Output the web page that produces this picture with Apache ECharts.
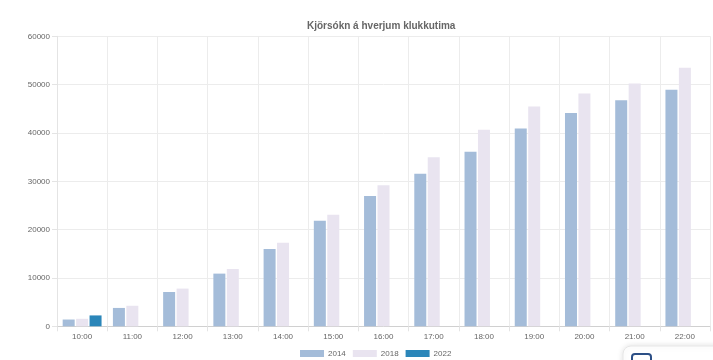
<!DOCTYPE html>
<html>
<head>
<meta charset="utf-8">
<script src="https://cdn.jsdelivr.net/npm/echarts@6/dist/echarts.min.js"></script>
<style>html,body{margin:0;padding:0;background:#fff;}#c{width:713px;height:360px;}</style>
</head>
<body>
<div id="c"></div>
<script>
const categories = ['10:00','11:00','12:00','13:00','14:00','15:00','16:00','17:00','18:00','19:00','20:00','21:00','22:00'];
const yTicks = [0, 10000, 20000, 30000, 40000, 50000, 60000];
const s2014 = [1400, 3800, 7100, 10900, 16000, 21850, 26950, 31550, 36100, 40900, 44150, 46750, 48950];
const s2018 = [1550, 4250, 7800, 11850, 17300, 23100, 29200, 35000, 40650, 45450, 48150, 50250, 53500];
const s2022 = [2250, null, null, null, null, null, null, null, null, null, null, null, null];

const chart = echarts.init(document.getElementById('c'), null, {renderer: 'canvas'});
const font = 'Liberation Sans, Arial, Helvetica, sans-serif';
chart.setOption({
  animation: false,
  title: {
    text: 'Kjörsókn á hverjum klukkutima',
    left: 302, top: 16,
    textStyle: {fontFamily: font, fontSize: 10, fontWeight: 'bold', color: '#666'}
  },
  legend: {
    top: 349.5, left: 300, itemWidth: 24, itemHeight: 7, itemGap: 7, padding: 0,
    textStyle: {fontFamily: font, fontSize: 8, color: '#666', padding: [0,0,0,-1]},
    icon: 'rect',
    data: ['2014','2018','2022']
  },
  grid: {left: 57, right: 3, top: 36.3, bottom: 33.7, containLabel: false},
  xAxis: {
    type: 'category', data: categories, boundaryGap: true,
    axisLine: {show: true, lineStyle: {color: '#d0d0d0', width: 1}},
    axisTick: {show: true, length: 5, lineStyle: {color: '#e4e4e4'}},
    axisLabel: {fontFamily: font, fontSize: 8, color: '#666', margin: 6},
    splitLine: {show: true, lineStyle: {color: '#ececec', width: 1}}
  },
  yAxis: {
    type: 'value', min: yTicks[0], max: yTicks[yTicks.length-1], interval: 10000,
    axisLine: {show: true, lineStyle: {color: '#e4e4e4'}},
    axisTick: {show: true, length: 5, lineStyle: {color: '#e4e4e4'}},
    axisLabel: {fontFamily: font, fontSize: 8, color: '#666', margin: 7, formatter: function (v) { return String(v); }},
    splitLine: {show: true, lineStyle: {color: '#ececec', width: 1}}
  },
  series: [
    {name: '2014', type: 'bar', data: s2014, barWidth: 12, barGap: '12%', itemStyle: {color: '#a4bcd9'}},
    {name: '2018', type: 'bar', data: s2018, barWidth: 12, barGap: '12%', itemStyle: {color: '#e9e4f0'}},
    {name: '2022', type: 'bar', data: s2022, barWidth: 12, barGap: '12%', itemStyle: {color: '#2b86b9'}}
  ],
  graphic: [
    {type: 'rect', shape: {x: 623, y: 346, width: 110, height: 40, r: 8},
     style: {fill: '#fff', stroke: '#e6e6e6', lineWidth: 1, shadowBlur: 6, shadowColor: 'rgba(0,0,0,0.12)'}},
    {type: 'rect', shape: {x: 632, y: 354, width: 19, height: 14, r: 3},
     style: {fill: 'none', stroke: '#2c4f86', lineWidth: 2}}
  ]
});
</script>
</body>
</html>
